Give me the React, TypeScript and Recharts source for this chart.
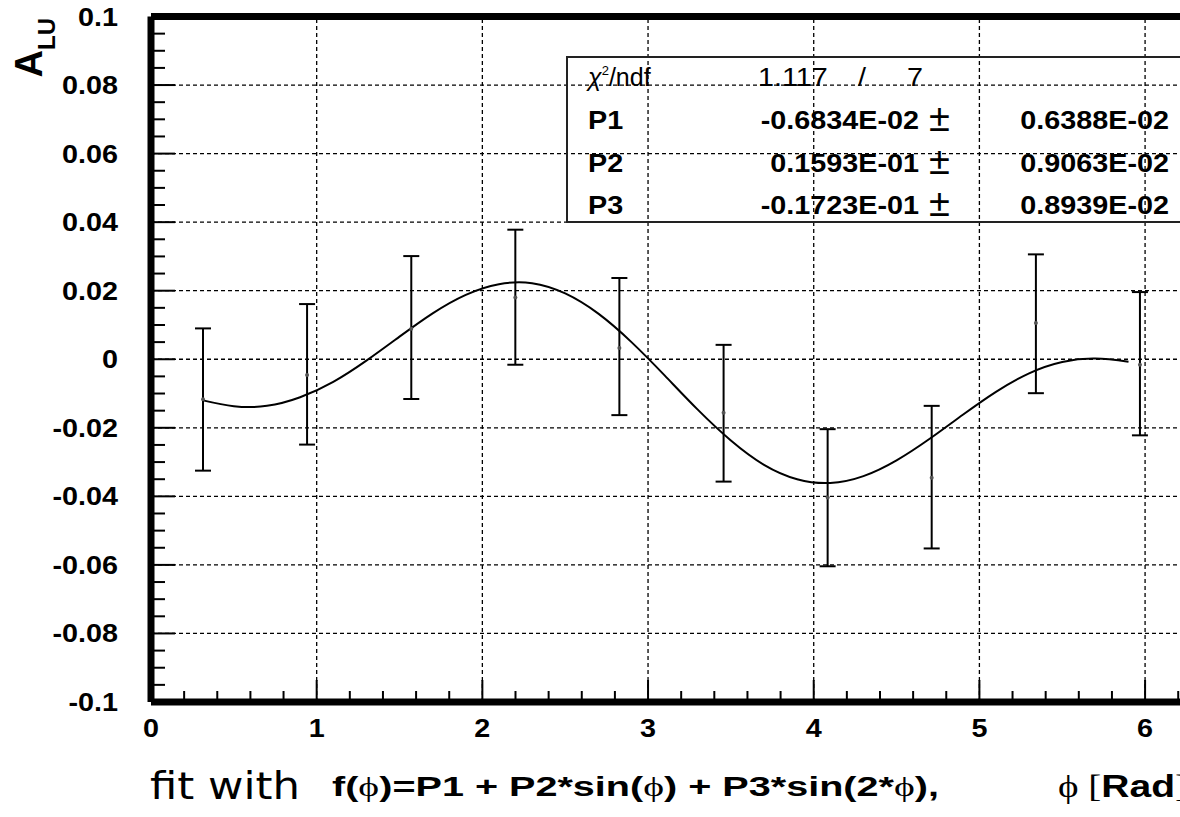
import React from "react";
import {
    ComposedChart,
    XAxis,
    YAxis,
    Line,
    Scatter,
    ErrorBar,
    ReferenceLine,
} from "recharts";

// measured asymmetry points (bin centres in rad)
const phiBins = [0.314, 0.942, 1.571, 2.199, 2.827, 3.456, 4.084, 4.712, 5.341, 5.969];
const aluValues = [-0.0117, -0.0046, 0.0089, 0.018, 0.0033, -0.0156, -0.0403, -0.0346, 0.0106, -0.0016];
const errLow = [0.0208, 0.0203, 0.0205, 0.0196, 0.0196, 0.0201, 0.0201, 0.0206, 0.0205, 0.0206];
const errHigh = [0.0207, 0.0207, 0.0212, 0.0198, 0.0204, 0.0198, 0.0199, 0.021, 0.02, 0.0212];

// fit curve
const fitPhi = [
    0.314, 0.5, 0.7, 0.9, 1.1, 1.3, 1.5, 1.7, 1.9, 2.1, 2.3, 2.5, 2.7, 2.9, 3.1,
    3.3, 3.5, 3.7, 3.9, 4.1, 4.3, 4.5, 4.7, 4.9, 5.1, 5.3, 5.5, 5.7, 5.9,
];
const fitValues = [
    -0.012, -0.0137, -0.0136, -0.0111, -0.0066, -0.0004, 0.0066, 0.0134, 0.0188,
    0.0219, 0.0222, 0.0192, 0.0133, 0.005, -0.0047, -0.0147, -0.0237, -0.0308,
    -0.035, -0.0361, -0.0341, -0.0295, -0.0232, -0.0162, -0.0095, -0.0041,
    -0.0008, 0.0002, -0.0007,
];

const xMajor = [0, 1, 2, 3, 4, 5, 6];
const xLabels = ["0", "1", "2", "3", "4", "5", "6"];
const xTicks = [
    0, 0.2, 0.4, 0.6, 0.8, 1, 1.2, 1.4, 1.6, 1.8, 2, 2.2, 2.4, 2.6, 2.8, 3, 3.2,
    3.4, 3.6, 3.8, 4, 4.2, 4.4, 4.6, 4.8, 5, 5.2, 5.4, 5.6, 5.8, 6, 6.2,
];
const yMajor = [-0.1, -0.08, -0.06, -0.04, -0.02, 0, 0.02, 0.04, 0.06, 0.08, 0.1];
const yLabels = ["-0.1", "-0.08", "-0.06", "-0.04", "-0.02", "0", "0.02", "0.04", "0.06", "0.08", "0.1"];
const yTicks = [
    -0.1, -0.095, -0.09, -0.085, -0.08, -0.075, -0.07, -0.065, -0.06, -0.055,
    -0.05, -0.045, -0.04, -0.035, -0.03, -0.025, -0.02, -0.015, -0.01, -0.005, 0,
    0.005, 0.01, 0.015, 0.02, 0.025, 0.03, 0.035, 0.04, 0.045, 0.05, 0.055, 0.06,
    0.065, 0.07, 0.075, 0.08, 0.085, 0.09, 0.095, 0.1,
];
const xGrid = [1, 2, 3, 4, 5, 6];
const yGrid = [-0.08, -0.06, -0.04, -0.02, 0, 0.02, 0.04, 0.06, 0.08];

const statRows = [
    { name: "P1", value: "-0.6834E-02", error: "0.6388E-02" },
    { name: "P2", value: "0.1593E-01", error: "0.9063E-02" },
    { name: "P3", value: "-0.1723E-01", error: "0.8939E-02" },
];

const points = phiBins.map((x, i) => ({ x, y: aluValues[i], err: [errLow[i], errHigh[i]] }));
const fitData = fitPhi.map((x, i) => ({ x, f: fitValues[i] }));

const SANS = "'Liberation Sans', Arial, sans-serif";
const SERIF = "'Liberation Serif', 'DejaVu Serif', serif";
const PHI = "\u03D5";

function findIdx(list: number[], v: number) {
    return list.findIndex((m) => Math.abs(m - v) < 1e-6);
}

function XTick(props: any) {
    const { x, y, payload } = props;
    const idx = findIdx(xMajor, payload.value);
    return (
        <g>
            <line x1={x} x2={x} y1={y} y2={y - (idx >= 0 ? 22 : 11)} stroke="#000" strokeWidth={2} />
            {idx >= 0 && (
                <text
                    transform={`translate(${x},${y + 35}) scale(1.15,1)`}
                    textAnchor="middle"
                    fontSize={25}
                    fontWeight="bold"
                    fontFamily={SANS}
                    fill="#000"
                >
                    {xLabels[idx]}
                </text>
            )}
        </g>
    );
}

function YTick(props: any) {
    const { x, y, payload } = props;
    const idx = findIdx(yMajor, payload.value);
    return (
        <g>
            <line x1={x} x2={x + (idx >= 0 ? 24 : 14)} y1={y} y2={y} stroke="#000" strokeWidth={2} />
            {idx >= 0 && (
                <text
                    transform={`translate(${x - 33},${y + 9}) scale(1.15,1)`}
                    textAnchor="end"
                    fontSize={25}
                    fontWeight="bold"
                    fontFamily={SANS}
                    fill="#000"
                >
                    {yLabels[idx]}
                </text>
            )}
        </g>
    );
}

function Dot(props: any) {
    const { cx, cy } = props;
    return <circle cx={cx} cy={cy} r={2} fill="#555" />;
}

function T({ x, y, anchor = "start", size = 25, bold = true, children }: any) {
    return (
        <text
            transform={`translate(${x},${y}) scale(1.15,1)`}
            textAnchor={anchor}
            fontSize={size}
            fontWeight={bold ? "bold" : "normal"}
            fontFamily={SANS}
            fill="#000"
        >
            {children}
        </text>
    );
}

export default function App() {
    return (
        <div style={{ position: "absolute", left: 0, top: 0, width: 1180, height: 817, overflow: "hidden", background: "#fff" }}>
            <ComposedChart width={1200} height={817} margin={{ top: 16.5, right: 8, bottom: 0, left: 0 }}>
                <XAxis
                    dataKey="x"
                    type="number"
                    domain={[0, 6.2832]}
                    allowDataOverflow
                    ticks={xTicks}
                    interval={0}
                    height={115}
                    tickSize={0}
                    tickMargin={0}
                    tickLine={false}
                    tick={<XTick />}
                    axisLine={{ stroke: "#000", strokeWidth: 7 }}
                />
                <YAxis
                    type="number"
                    domain={[-0.1, 0.1]}
                    allowDataOverflow
                    ticks={yTicks}
                    interval={0}
                    width={151}
                    tickSize={0}
                    tickMargin={0}
                    tickLine={false}
                    tick={<YTick />}
                    axisLine={{ stroke: "#000", strokeWidth: 7 }}
                />
                {xGrid.map((v) => (
                    <ReferenceLine key={"gx" + v} x={v} stroke="#000" strokeWidth={1.3} strokeDasharray="4 3" />
                ))}
                {yGrid.map((v) => (
                    <ReferenceLine key={"gy" + v} y={v} stroke="#000" strokeWidth={1.3} strokeDasharray="4 3" />
                ))}
                <ReferenceLine y={0.1} stroke="#000" strokeWidth={7} />
                <Line
                    data={fitData}
                    dataKey="f"
                    type="natural"
                    stroke="#000"
                    strokeWidth={2}
                    dot={false}
                    isAnimationActive={false}
                />
                <Scatter data={points} dataKey="y" shape={<Dot />} isAnimationActive={false}>
                    <ErrorBar dataKey="err" direction="y" width={8} stroke="#000" strokeWidth={2} />
                </Scatter>
            </ComposedChart>

            <svg width={1180} height={817} style={{ position: "absolute", left: 0, top: 0, pointerEvents: "none" }}>
                {/* y title */}
                <text transform="translate(42,18) rotate(-90)" textAnchor="end" fontFamily={SANS} fontWeight="bold" fill="#000">
                    <tspan fontSize={38}>A</tspan>
                    <tspan fontSize={24} dy={13}>LU</tspan>
                </text>

                {/* stat box */}
                <rect x={567} y={57} width={700} height={165} fill="none" stroke="#222" strokeWidth={2} />
                <text x={588} y={86} fontSize={25} fontFamily={SANS} fill="#000">
                    <tspan fontStyle="italic">χ</tspan>
                    <tspan fontSize={13} dy={-11}>2</tspan>
                    <tspan dy={11}>/ndf</tspan>
                </text>
                <T x={758} y={86} bold={false}>1.117</T>
                <T x={858} y={86} bold={false}>/</T>
                <T x={907} y={86} bold={false}>7</T>
                {statRows.map((r, i) => (
                    <g key={r.name}>
                        <T x={588} y={129 + i * 42.5}>{r.name}</T>
                        <T x={919} y={129 + i * 42.5} anchor="end">{r.value}</T>
                        <text x={929} y={131 + i * 42.5} fontSize={38} fontFamily={SANS} fill="#000">±</text>
                        <T x={1169} y={129 + i * 42.5} anchor="end">{r.error}</T>
                    </g>
                ))}

                {/* caption */}
                <text x={150} y={799} fontSize={37} fontFamily="'DejaVu Sans', sans-serif" fill="#000" textLength={150} lengthAdjust="spacingAndGlyphs">
                    fit with
                </text>
                <text x={332} y={796} fontSize={28} fontWeight="bold" fontFamily={SANS} fill="#000" textLength={607} lengthAdjust="spacingAndGlyphs">
                    f(<tspan fontFamily={SERIF} fontWeight="normal">{PHI}</tspan>)=P1 + P2*sin(<tspan fontFamily={SERIF} fontWeight="normal">{PHI}</tspan>) + P3*sin(2*<tspan fontFamily={SERIF} fontWeight="normal">{PHI}</tspan>),
                </text>
                <text x={1058} y={797} fontSize={31} fontFamily={SERIF} fill="#000" textLength={130} lengthAdjust="spacingAndGlyphs">
                    {PHI} [<tspan fontFamily={SANS} fontWeight="bold">Rad</tspan>]
                </text>
            </svg>
        </div>
    );
}
